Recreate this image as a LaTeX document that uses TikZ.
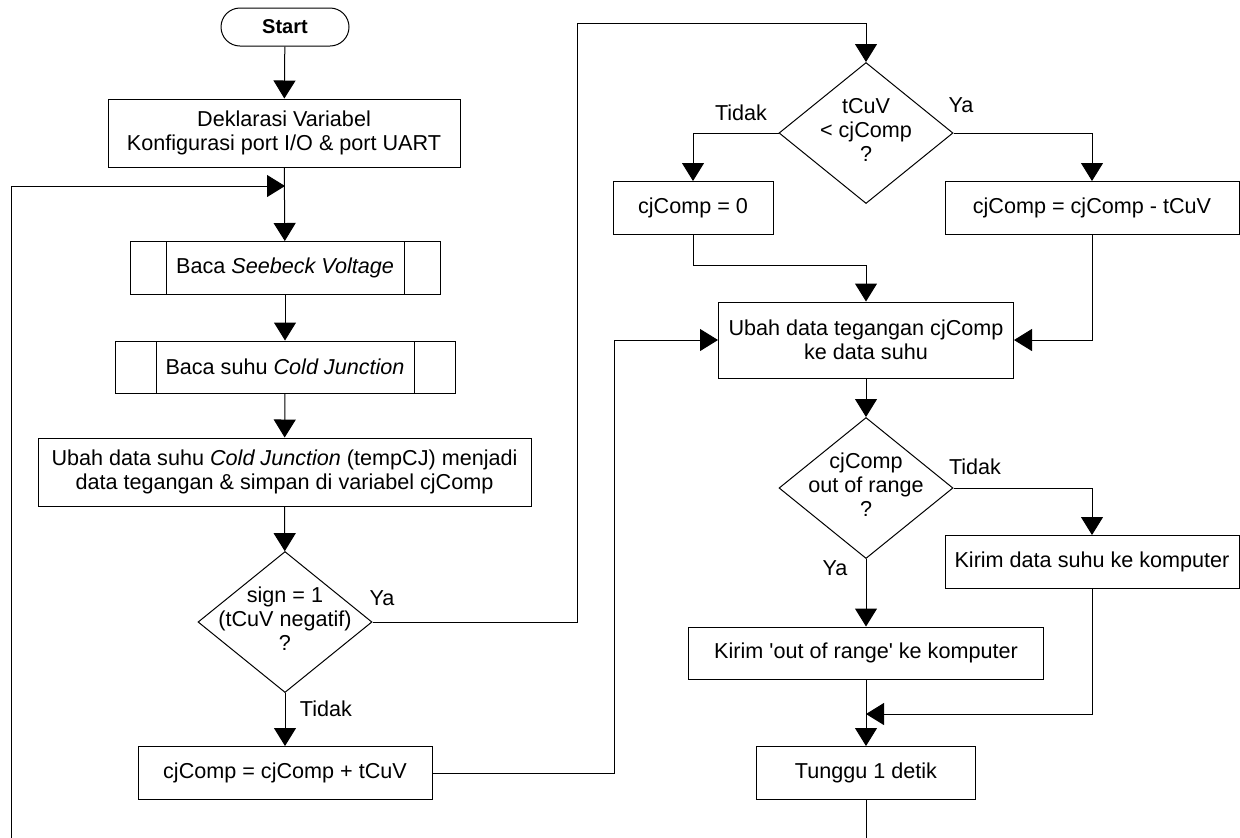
\documentclass[tikz,border=0pt]{standalone}
\usepackage{fontspec}
\setmainfont{Liberation Sans}
\usetikzlibrary{arrows.meta,shapes.geometric}
\tikzset{
  box/.style={draw, rectangle, inner sep=0pt, align=center, minimum height=26.5pt},
  sub/.style={box, path picture={\draw[-] ([xshift=#1]path picture bounding box.north west) -- ([xshift=#1]path picture bounding box.south west)
      ([xshift=-#1]path picture bounding box.north east) -- ([xshift=-#1]path picture bounding box.south east);}},
  decision/.style={draw, diamond, inner sep=0pt, minimum width=87pt, minimum height=70.5pt},
  terminal/.style={draw, rectangle, rounded corners=9.5pt, minimum width=64pt, minimum height=19pt, font=\bfseries},
}
\newcommand{\dtxt}[1]{\makebox[0pt]{\begin{tabular}{@{}c@{}}#1\end{tabular}}}
\begin{document}
\begin{tikzpicture}[x=0.5pt, y=-0.5pt, line width=0.5pt, ->, >={Triangle[length=9pt,width=11pt]},
    font=\fontsize{10.8}{12}\selectfont]
        \useasboundingbox (0,0) rectangle (1240,837);
        \node[terminal] (1) at (285,27) {Start};
        \node[box, minimum width=176pt, minimum height=34pt] (2) at (284,133) {Deklarasi Variabel\\Konfigurasi port I/O \& port UART};
        \node[sub=18pt, minimum width=155pt] (3) at (285,268) {Baca \textit{Seebeck Voltage}};
        \node[sub=20.5pt, minimum width=170pt, minimum height=26pt] (4) at (285,367) {Baca suhu \textit{Cold Junction}};
        \node[box, minimum width=246.5pt, minimum height=34pt] (5) at (284.5,472) {Ubah data suhu \textit{Cold Junction} (tempCJ) menjadi\\data tegangan \& simpan di variabel cjComp};
        \node[decision] (6) at (285,622) {\dtxt{sign = 1\\(tCuV negatif)\\?}};
        \node[box, minimum width=147pt] (7) at (285,773) {cjComp = cjComp + tCuV};
        \node[decision] (8) at (866,133) {\dtxt{tCuV\\< cjComp\\?}};
        \node[box, minimum width=80pt] (9) at (693,208) {cjComp = 0};
        \node[box, minimum width=147pt] (10) at (1092,208) {cjComp = cjComp - tCuV};
        \node[box, minimum width=147.5pt, minimum height=38pt] (11) at (866,340) {Ubah data tegangan cjComp\\ke data suhu};
        \node[decision] (12) at (866,488) {\dtxt{cjComp\\out of range\\?}};
        \node[box, minimum width=147pt] (13) at (1092,562) {Kirim data suhu ke komputer};
        \node[box, minimum width=177.5pt, minimum height=26pt] (14) at (866,653) {Kirim \textquotesingle out of range\textquotesingle\ ke komputer};
        \node[box, minimum width=109.5pt] (15) at (866,773) {Tunggu 1 detik};
        \node (ya1) at (382,598) {Ya};
        \node (td1) at (326,709) {Tidak};
        \node (td2) at (741,113) {Tidak};
        \node (ya2) at (961,105) {Ya};
        \node (td3) at (975,467) {Tidak};
        \node (ya3) at (835,568) {Ya};
        \coordinate (a) at (285,186);
        \coordinate (b) at (577,23);
        \coordinate (c) at (614,340);
        \coordinate (d) at (866,265);
        \coordinate (e) at (866,714);
        \coordinate (f) at (11,838);
        \draw (1) -- (2);
        \draw (2) -- (3);
        \draw (3) -- (4);
        \draw (4) -- (5);
        \draw (5) -- (6);
        \draw (6) -- (7);
        \draw (6) -| (b) -| (8);
        \draw (7) -| (c) -- (11);
        \draw (8) -| (9);
        \draw (8) -| (10);
        \draw (9) |- (d) -- (11);
        \draw (10) |- (11);
        \draw (11) -- (12);
        \draw (12) -| (13);
        \draw (12) -- (14);
        \draw (13) |- (e);
        \draw (14) -- (15);
        \draw (15) -- (15 |- f) -- (f) |- (a);
    \end{tikzpicture}
\end{document}
